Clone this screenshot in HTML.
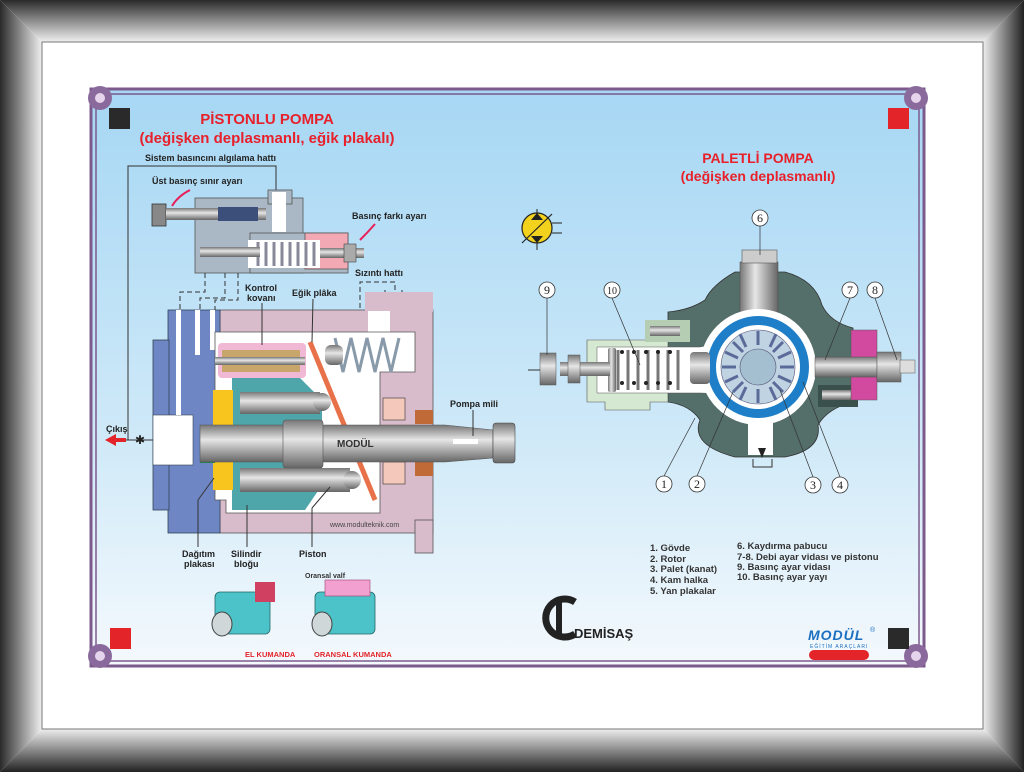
<!DOCTYPE html>
<html><head><meta charset="utf-8"><style>
html,body{margin:0;padding:0;width:1024px;height:772px;overflow:hidden;background:#fff}
svg{display:block}
text{font-family:"Liberation Sans",sans-serif}
.lb{font-size:9px;font-weight:bold;fill:#222}
.tt{font-size:15px;font-weight:bold;fill:#e8202a}
.lg{font-size:9.5px;font-weight:bold;fill:#333}
.nm{font-family:"Liberation Serif",serif;font-size:12px;fill:#222}
</style></head><body>
<svg width="1024" height="772" viewBox="0 0 1024 772" xmlns="http://www.w3.org/2000/svg">
<defs>
<linearGradient id="ft" x1="0" y1="0" x2="0" y2="1"><stop offset="0" stop-color="#2a2a2a"/><stop offset="1" stop-color="#f0f0f0"/></linearGradient>
<linearGradient id="fb" x1="0" y1="1" x2="0" y2="0"><stop offset="0" stop-color="#222"/><stop offset="1" stop-color="#eee"/></linearGradient>
<linearGradient id="fl" x1="0" y1="0" x2="1" y2="0"><stop offset="0" stop-color="#2a2a2a"/><stop offset="1" stop-color="#f0f0f0"/></linearGradient>
<linearGradient id="fr" x1="1" y1="0" x2="0" y2="0"><stop offset="0" stop-color="#222"/><stop offset="1" stop-color="#eee"/></linearGradient>
<linearGradient id="bg" x1="0" y1="0" x2="0" y2="1"><stop offset="0" stop-color="#a6d7f4"/><stop offset="0.6" stop-color="#cfe9f8"/><stop offset="1" stop-color="#f4f9fd"/></linearGradient>
<linearGradient id="sh" x1="0" y1="0" x2="0" y2="1"><stop offset="0" stop-color="#777"/><stop offset="0.4" stop-color="#e6e6e6"/><stop offset="1" stop-color="#666"/></linearGradient>
<linearGradient id="sv" x1="0" y1="0" x2="1" y2="0"><stop offset="0" stop-color="#777"/><stop offset="0.4" stop-color="#e6e6e6"/><stop offset="1" stop-color="#666"/></linearGradient>
</defs>
<rect width="1024" height="772" fill="#fff"/>
<polygon points="0,0 1024,0 983,42 42,42" fill="url(#ft)"/>
<polygon points="0,772 1024,772 983,729 42,729" fill="url(#fb)"/>
<polygon points="0,0 42,42 42,729 0,772" fill="url(#fl)"/>
<polygon points="1024,0 983,42 983,729 1024,772" fill="url(#fr)"/>
<rect x="42" y="42" width="941" height="687" fill="#fff" stroke="#777" stroke-width="1"/>
<rect x="92" y="90" width="831" height="575" fill="url(#bg)"/>
<rect x="91" y="89" width="833" height="577" fill="none" stroke="#7d5a8c" stroke-width="3"/>
<rect x="96" y="94" width="823" height="567" fill="none" stroke="#7d5a8c" stroke-width="1.5"/>
<g fill="#8a6a9c">
<circle cx="100" cy="98" r="12"/><circle cx="916" cy="98" r="12"/><circle cx="100" cy="656" r="12"/><circle cx="916" cy="656" r="12"/>
</g>
<g fill="#e6d4ec"><circle cx="100" cy="98" r="5"/><circle cx="916" cy="98" r="5"/><circle cx="100" cy="656" r="5"/><circle cx="916" cy="656" r="5"/></g>
<rect x="109" y="108" width="21" height="21" fill="#2a2a2a"/>
<rect x="888" y="108" width="21" height="21" fill="#e32428"/>
<rect x="110" y="628" width="21" height="21" fill="#e32428"/>
<rect x="888" y="628" width="21" height="21" fill="#2a2a2a"/>

<text class="tt" x="267" y="124" text-anchor="middle">PİSTONLU POMPA</text>
<text class="tt" x="267" y="143" text-anchor="middle">(değişken deplasmanlı, eğik plakalı)</text>
<text class="tt" x="758" y="163" text-anchor="middle" style="font-size:14px">PALETLİ POMPA</text>
<text class="tt" x="758" y="181" text-anchor="middle" style="font-size:14px">(değişken deplasmanlı)</text>

<text class="lb" x="145" y="161">Sistem basıncını algılama hattı</text>
<polyline points="128,440 128,166 276,166 276,192" fill="none" stroke="#333" stroke-width="1"/>
<text class="lb" x="152" y="184">Üst basınç sınır ayarı</text>
<path d="M190,190 Q178,196 172,206" stroke="#e8205a" stroke-width="2" fill="none"/>
<text class="lb" x="352" y="219">Basınç farkı ayarı</text>
<path d="M375,224 Q368,232 360,240" stroke="#e8205a" stroke-width="2" fill="none"/>
<rect x="195" y="198" width="108" height="75" fill="#a9b8c4" stroke="#555" stroke-width="0.8"/>
<rect x="250" y="233" width="98" height="40" fill="#a9b8c4" stroke="#555" stroke-width="0.8"/>
<rect x="305" y="233" width="43" height="36" fill="#f2a9b4" stroke="#555" stroke-width="0.8"/>
<rect x="268" y="190" width="24" height="14" fill="#a9b8c4" stroke="#555" stroke-width="0.8"/>
<rect x="272" y="192" width="14" height="40" fill="#fff"/>
<rect x="152" y="204" width="14" height="22" fill="#888" stroke="#333" stroke-width="0.8"/>
<rect x="166" y="208" width="100" height="12" fill="url(#sh)"/>
<rect x="218" y="207" width="40" height="14" fill="#3b4f7a"/>
<rect x="248" y="240" width="72" height="28" fill="#fff"/>
<g stroke="#889" stroke-width="3" fill="none"><path d="M258,242 v24 M266,242 v24 M274,242 v24 M282,242 v24 M290,242 v24 M298,242 v24 M306,242 v24 M314,242 v24"/></g>
<rect x="200" y="247" width="60" height="10" fill="url(#sh)"/>
<rect x="320" y="248" width="44" height="10" fill="url(#sh)"/>
<rect x="344" y="244" width="12" height="18" fill="#aaa" stroke="#444" stroke-width="0.6"/>
<g stroke="#333" stroke-dasharray="5,3" fill="none" stroke-width="1">
<polyline points="205,273 205,292 180,292 180,315"/><polyline points="225,273 225,298 200,298 200,315"/><polyline points="238,273 238,300 215,300 215,315"/>
<polyline points="360,308 360,282 395,282 395,292"/></g>
<text class="lb" x="355" y="276">Sızıntı hattı</text>
<polyline points="385,290 385,298 402,298 402,290" fill="none" stroke="#333"/>
<rect x="220" y="310" width="213" height="223" fill="#d9bccb" stroke="#555" stroke-width="0.8"/>
<rect x="365" y="292" width="68" height="20" fill="#d9bccb"/>
<rect x="415" y="520" width="18" height="33" fill="#d9bccb" stroke="#555" stroke-width="0.8"/>
<rect x="368" y="311" width="22" height="22" fill="#fff"/>
<rect x="168" y="310" width="52" height="223" fill="#6e86c4" stroke="#345" stroke-width="0.8"/>
<rect x="153" y="340" width="16" height="170" fill="#6e86c4" stroke="#345" stroke-width="0.8"/>
<rect x="153" y="415" width="40" height="50" fill="#fff" stroke="#345" stroke-width="0.6"/>
<rect x="176" y="310" width="5" height="105" fill="#fff"/><rect x="195" y="310" width="5" height="45" fill="#fff"/><rect x="210" y="310" width="5" height="40" fill="#fff"/>
<path d="M215,332 H415 V372 H380 V513 L226,513 V500 H215 Z" fill="#fff" stroke="#555" stroke-width="0.8"/>
<rect x="218" y="343" width="88" height="35" rx="4" fill="#f1b8d6"/>
<rect x="222" y="350" width="78" height="8" fill="#c8a56a"/><rect x="222" y="364" width="78" height="8" fill="#c8a56a"/>
<rect x="215" y="357" width="90" height="8" fill="url(#sh)"/>
<path d="M232,378 H300 L322,400 V485 L305,510 H232 Z" fill="#4ea6aa"/>
<rect x="213" y="390" width="20" height="100" fill="#f7c51e"/>
<rect x="200" y="425" width="15" height="38" fill="#1b8a45"/>
<rect x="240" y="392" width="80" height="22" fill="url(#sh)"/>
<rect x="240" y="468" width="110" height="24" fill="url(#sh)"/>
<circle cx="322" cy="402" r="9" fill="url(#sh)"/><circle cx="352" cy="480" r="9" fill="url(#sh)"/>
<line x1="310" y1="342" x2="375" y2="500" stroke="#e8714a" stroke-width="5"/>
<g stroke="#89a" stroke-width="3" fill="none"><path d="M335,338 l8,34 l8,-34 l8,34 l8,-34 l8,34 l8,-34 l8,34 l8,-34"/></g>
<rect x="325" y="345" width="18" height="20" rx="6" fill="url(#sh)"/>
<rect x="383" y="398" width="22" height="22" fill="#f5c8bc" stroke="#333" stroke-width="0.6"/>
<rect x="383" y="462" width="22" height="22" fill="#f5c8bc" stroke="#333" stroke-width="0.6"/>
<rect x="415" y="410" width="18" height="14" fill="#c06a38"/><rect x="415" y="462" width="18" height="14" fill="#c06a38"/>
<path d="M200,425 H445 L493,430 V458 L445,462 H200 Z" fill="url(#sh)" stroke="#555" stroke-width="0.6"/>
<rect x="283" y="420" width="40" height="48" rx="3" fill="url(#sh)" stroke="#555" stroke-width="0.6"/>
<rect x="493" y="423" width="22" height="40" rx="3" fill="url(#sh)" stroke="#444" stroke-width="0.6"/>
<rect x="453" y="439" width="25" height="5" fill="#fff"/>
<text x="337" y="447" font-family="Liberation Serif,serif" font-weight="bold" font-size="10" fill="#333">MODÜL</text>
<text x="330" y="527" font-family="Liberation Serif,serif" font-size="7" fill="#444">www.modulteknik.com</text>
<line x1="110" y1="440" x2="153" y2="440" stroke="#333"/>
<polygon points="105,440 116,434 116,446" fill="#e32428"/><rect x="114" y="438" width="12" height="4" fill="#e32428"/>
<text class="lb" x="106" y="432">Çıkış</text>
<text x="135" y="444" font-size="12" fill="#222">✱</text>
<text class="lb" x="245" y="291">Kontrol</text><text class="lb" x="247" y="301">kovanı</text>
<line x1="262" y1="303" x2="262" y2="345" stroke="#333"/>
<text class="lb" x="292" y="296">Eğik plâka</text>
<line x1="313" y1="299" x2="312" y2="342" stroke="#333"/>
<text class="lb" x="450" y="407">Pompa mili</text>
<line x1="473" y1="410" x2="473" y2="436" stroke="#333"/>
<text class="lb" x="182" y="557">Dağıtım</text><text class="lb" x="184" y="567">plakası</text>
<line x1="198" y1="547" x2="198" y2="500" stroke="#333"/><line x1="198" y1="500" x2="214" y2="478" stroke="#333"/>
<text class="lb" x="231" y="557">Silindir</text><text class="lb" x="234" y="567">bloğu</text>
<line x1="247" y1="547" x2="247" y2="505" stroke="#333"/>
<text class="lb" x="299" y="557">Piston</text>
<line x1="312" y1="547" x2="312" y2="508" stroke="#333"/><line x1="312" y1="508" x2="330" y2="487" stroke="#333"/>

<g>
<rect x="215" y="592" width="55" height="42" rx="5" fill="#4cc3c8" stroke="#266" stroke-width="0.8"/>
<ellipse cx="222" cy="624" rx="10" ry="12" fill="#cfd7d9" stroke="#444"/>
<rect x="255" y="582" width="20" height="20" fill="#d04060"/>
<rect x="315" y="592" width="60" height="42" rx="5" fill="#4cc3c8" stroke="#266" stroke-width="0.8"/>
<ellipse cx="322" cy="624" rx="10" ry="12" fill="#cfd7d9" stroke="#444"/>
<rect x="325" y="580" width="45" height="16" fill="#f2a0d0" stroke="#a04070" stroke-width="0.6"/>
<text x="245" y="657" font-size="7.5" font-weight="bold" fill="#e32428">EL KUMANDA</text>
<text x="314" y="657" font-size="7.5" font-weight="bold" fill="#e32428">ORANSAL KUMANDA</text>
<text x="305" y="578" font-size="7" font-weight="bold" fill="#333">Oransal valf</text>
</g>

<path d="M575,602 A19,19 0 1 0 575,634" fill="none" stroke="#222" stroke-width="7"/>
<rect x="556" y="600" width="6" height="36" fill="#222"/>
<text x="574" y="638" font-size="13" font-weight="bold" fill="#222">DEMİSAŞ</text>

<g>
<circle cx="537" cy="228" r="15" fill="#f3d21e" stroke="#222" stroke-width="1.2"/>
<line x1="522" y1="243" x2="552" y2="214" stroke="#222" stroke-width="1.2"/>
<polygon points="531,220 543,220 537,213" fill="#222"/><polygon points="531,236 543,236 537,243" fill="#222"/>
<line x1="537" y1="209" x2="537" y2="213" stroke="#222"/><line x1="537" y1="243" x2="537" y2="250" stroke="#222"/>
<path d="M552,223 h10 M552,233 h10" stroke="#222"/>
</g>
<path d="M735,272 Q712,285 705,300 Q690,310 668,312 L668,402 Q690,405 700,420 Q690,445 735,457 L785,457 Q822,450 818,425 Q828,408 853,402 L853,328 Q830,322 822,305 Q815,280 785,272 Z" fill="#546e6a" stroke="#333" stroke-width="0.8"/>
<path d="M587,340 H668 V402 H650 V410 H605 V402 H587 Z" fill="#d4e8d2" stroke="#555" stroke-width="0.6"/>
<rect x="645" y="320" width="45" height="22" fill="#b5cdb3"/>
<rect x="650" y="326" width="30" height="10" fill="url(#sh)"/>
<rect x="818" y="385" width="40" height="22" fill="#39504c"/>
<rect x="822" y="390" width="35" height="10" fill="url(#sh)"/>
<path d="M597,347 H700 L735,340 L760,395 L700,393 H597 Z" fill="#fff" stroke="#555" stroke-width="0.5"/>
<rect x="748" y="410" width="25" height="45" fill="#fff"/>
<rect x="740" y="262" width="38" height="60" fill="url(#sv)" stroke="#555" stroke-width="0.6"/>
<rect x="742" y="250" width="35" height="13" fill="#ccc" stroke="#555" stroke-width="0.6"/>
<circle cx="758" cy="367" r="58" fill="#fff"/>
<circle cx="758" cy="367" r="51" fill="#1e7ec8"/>
<circle cx="758" cy="367" r="42" fill="#fff"/>
<circle cx="758" cy="367" r="37" fill="#bfd3e3" stroke="#557" stroke-width="0.6"/>
<g stroke="#5a6b9a" stroke-width="3">
<line x1="758" y1="331" x2="758" y2="345"/><line x1="758" y1="389" x2="758" y2="403"/><line x1="722" y1="367" x2="736" y2="367"/><line x1="780" y1="367" x2="794" y2="367"/>
<line x1="733" y1="342" x2="743" y2="352"/><line x1="773" y1="382" x2="783" y2="392"/><line x1="783" y1="342" x2="773" y2="352"/><line x1="743" y1="382" x2="733" y2="392"/>
<line x1="740" y1="334" x2="746" y2="347"/><line x1="776" y1="334" x2="770" y2="347"/><line x1="740" y1="400" x2="746" y2="387"/><line x1="776" y1="400" x2="770" y2="387"/>
<line x1="725" y1="352" x2="738" y2="358"/><line x1="791" y1="352" x2="778" y2="358"/><line x1="725" y1="382" x2="738" y2="376"/><line x1="791" y1="382" x2="778" y2="376"/>
</g>
<circle cx="758" cy="367" r="18" fill="#a4bfd0" stroke="#557" stroke-width="0.6"/>
<rect x="608" y="348" width="8" height="44" rx="2" fill="url(#sv)"/>
<g stroke="#777" stroke-width="3" fill="none"><path d="M618,350 v40 M628,350 v40 M638,350 v40 M648,350 v40 M658,350 v40 M668,350 v40 M678,350 v40"/></g>
<g fill="#222"><circle cx="622" cy="352" r="2"/><circle cx="634" cy="352" r="2"/><circle cx="646" cy="352" r="2"/><circle cx="658" cy="352" r="2"/><circle cx="670" cy="352" r="2"/><circle cx="622" cy="383" r="2"/><circle cx="634" cy="383" r="2"/><circle cx="646" cy="383" r="2"/><circle cx="658" cy="383" r="2"/><circle cx="670" cy="383" r="2"/></g>
<rect x="690" y="352" width="20" height="32" rx="4" fill="url(#sh)"/>
<rect x="560" y="362" width="50" height="14" fill="url(#sh)"/>
<rect x="540" y="353" width="16" height="32" fill="url(#sh)" stroke="#555" stroke-width="0.5"/>
<rect x="568" y="355" width="12" height="28" fill="url(#sh)" stroke="#555" stroke-width="0.5"/>
<line x1="528" y1="370" x2="540" y2="370" stroke="#333"/>
<rect x="851" y="330" width="26" height="70" fill="#d24aa0" stroke="#555" stroke-width="0.5"/>
<rect x="815" y="357" width="62" height="20" fill="url(#sh)" stroke="#555" stroke-width="0.5"/>
<rect x="877" y="352" width="24" height="30" fill="url(#sh)" stroke="#555" stroke-width="0.5"/>
<rect x="900" y="360" width="15" height="13" fill="#ddd" stroke="#555" stroke-width="0.5"/>
<polyline points="753,459 753,467 772,467 772,459" fill="none" stroke="#333"/>
<polygon points="758,448 766,448 762,458" fill="#222"/>
<g fill="#fff" stroke="#333" stroke-width="0.8">
<circle cx="760" cy="218" r="8"/><circle cx="547" cy="290" r="8"/><circle cx="612" cy="290" r="8"/><circle cx="850" cy="290" r="8"/><circle cx="875" cy="290" r="8"/>
<circle cx="664" cy="484" r="8"/><circle cx="697" cy="484" r="8"/><circle cx="813" cy="485" r="8"/><circle cx="840" cy="485" r="8"/></g>
<text class="nm" x="760" y="222" text-anchor="middle">6</text><text class="nm" x="547" y="294" text-anchor="middle">9</text><text class="nm" x="612" y="294" text-anchor="middle" style="font-size:10px">10</text>
<text class="nm" x="850" y="294" text-anchor="middle">7</text><text class="nm" x="875" y="294" text-anchor="middle">8</text>
<text class="nm" x="664" y="488" text-anchor="middle">1</text><text class="nm" x="697" y="488" text-anchor="middle">2</text><text class="nm" x="813" y="489" text-anchor="middle">3</text><text class="nm" x="840" y="489" text-anchor="middle">4</text>
<g stroke="#333" stroke-width="0.7">
<line x1="760" y1="226" x2="760" y2="255"/><line x1="547" y1="298" x2="547" y2="355"/><line x1="612" y1="298" x2="640" y2="365"/>
<line x1="850" y1="298" x2="825" y2="360"/><line x1="875" y1="298" x2="897" y2="360"/>
<line x1="664" y1="476" x2="695" y2="418"/><line x1="697" y1="476" x2="733" y2="392"/><line x1="813" y1="477" x2="780" y2="390"/><line x1="840" y1="477" x2="803" y2="382"/></g>

<text class="lg" x="650" y="551">1. Gövde</text><text class="lg" x="650" y="562">2. Rotor</text><text class="lg" x="650" y="572">3. Palet (kanat)</text><text class="lg" x="650" y="583">4. Kam halka</text><text class="lg" x="650" y="594">5. Yan plakalar</text>
<text class="lg" x="737" y="549">6. Kaydırma pabucu</text><text class="lg" x="737" y="560">7-8. Debi ayar vidası ve pistonu</text><text class="lg" x="737" y="570">9. Basınç ayar vidası</text><text class="lg" x="737" y="580">10. Basınç ayar yayı</text>

<text x="808" y="640" font-size="14" font-weight="bold" font-style="italic" fill="#1a6fc0" letter-spacing="1">MODÜL</text>
<text x="870" y="632" font-size="7" fill="#1a6fc0">®</text>
<text x="810" y="648" font-size="5" fill="#1a6fc0" letter-spacing="1">EĞİTİM ARAÇLARI</text>
<rect x="809" y="650" width="60" height="10" rx="5" fill="#e32428"/>
</svg>
</body></html>
